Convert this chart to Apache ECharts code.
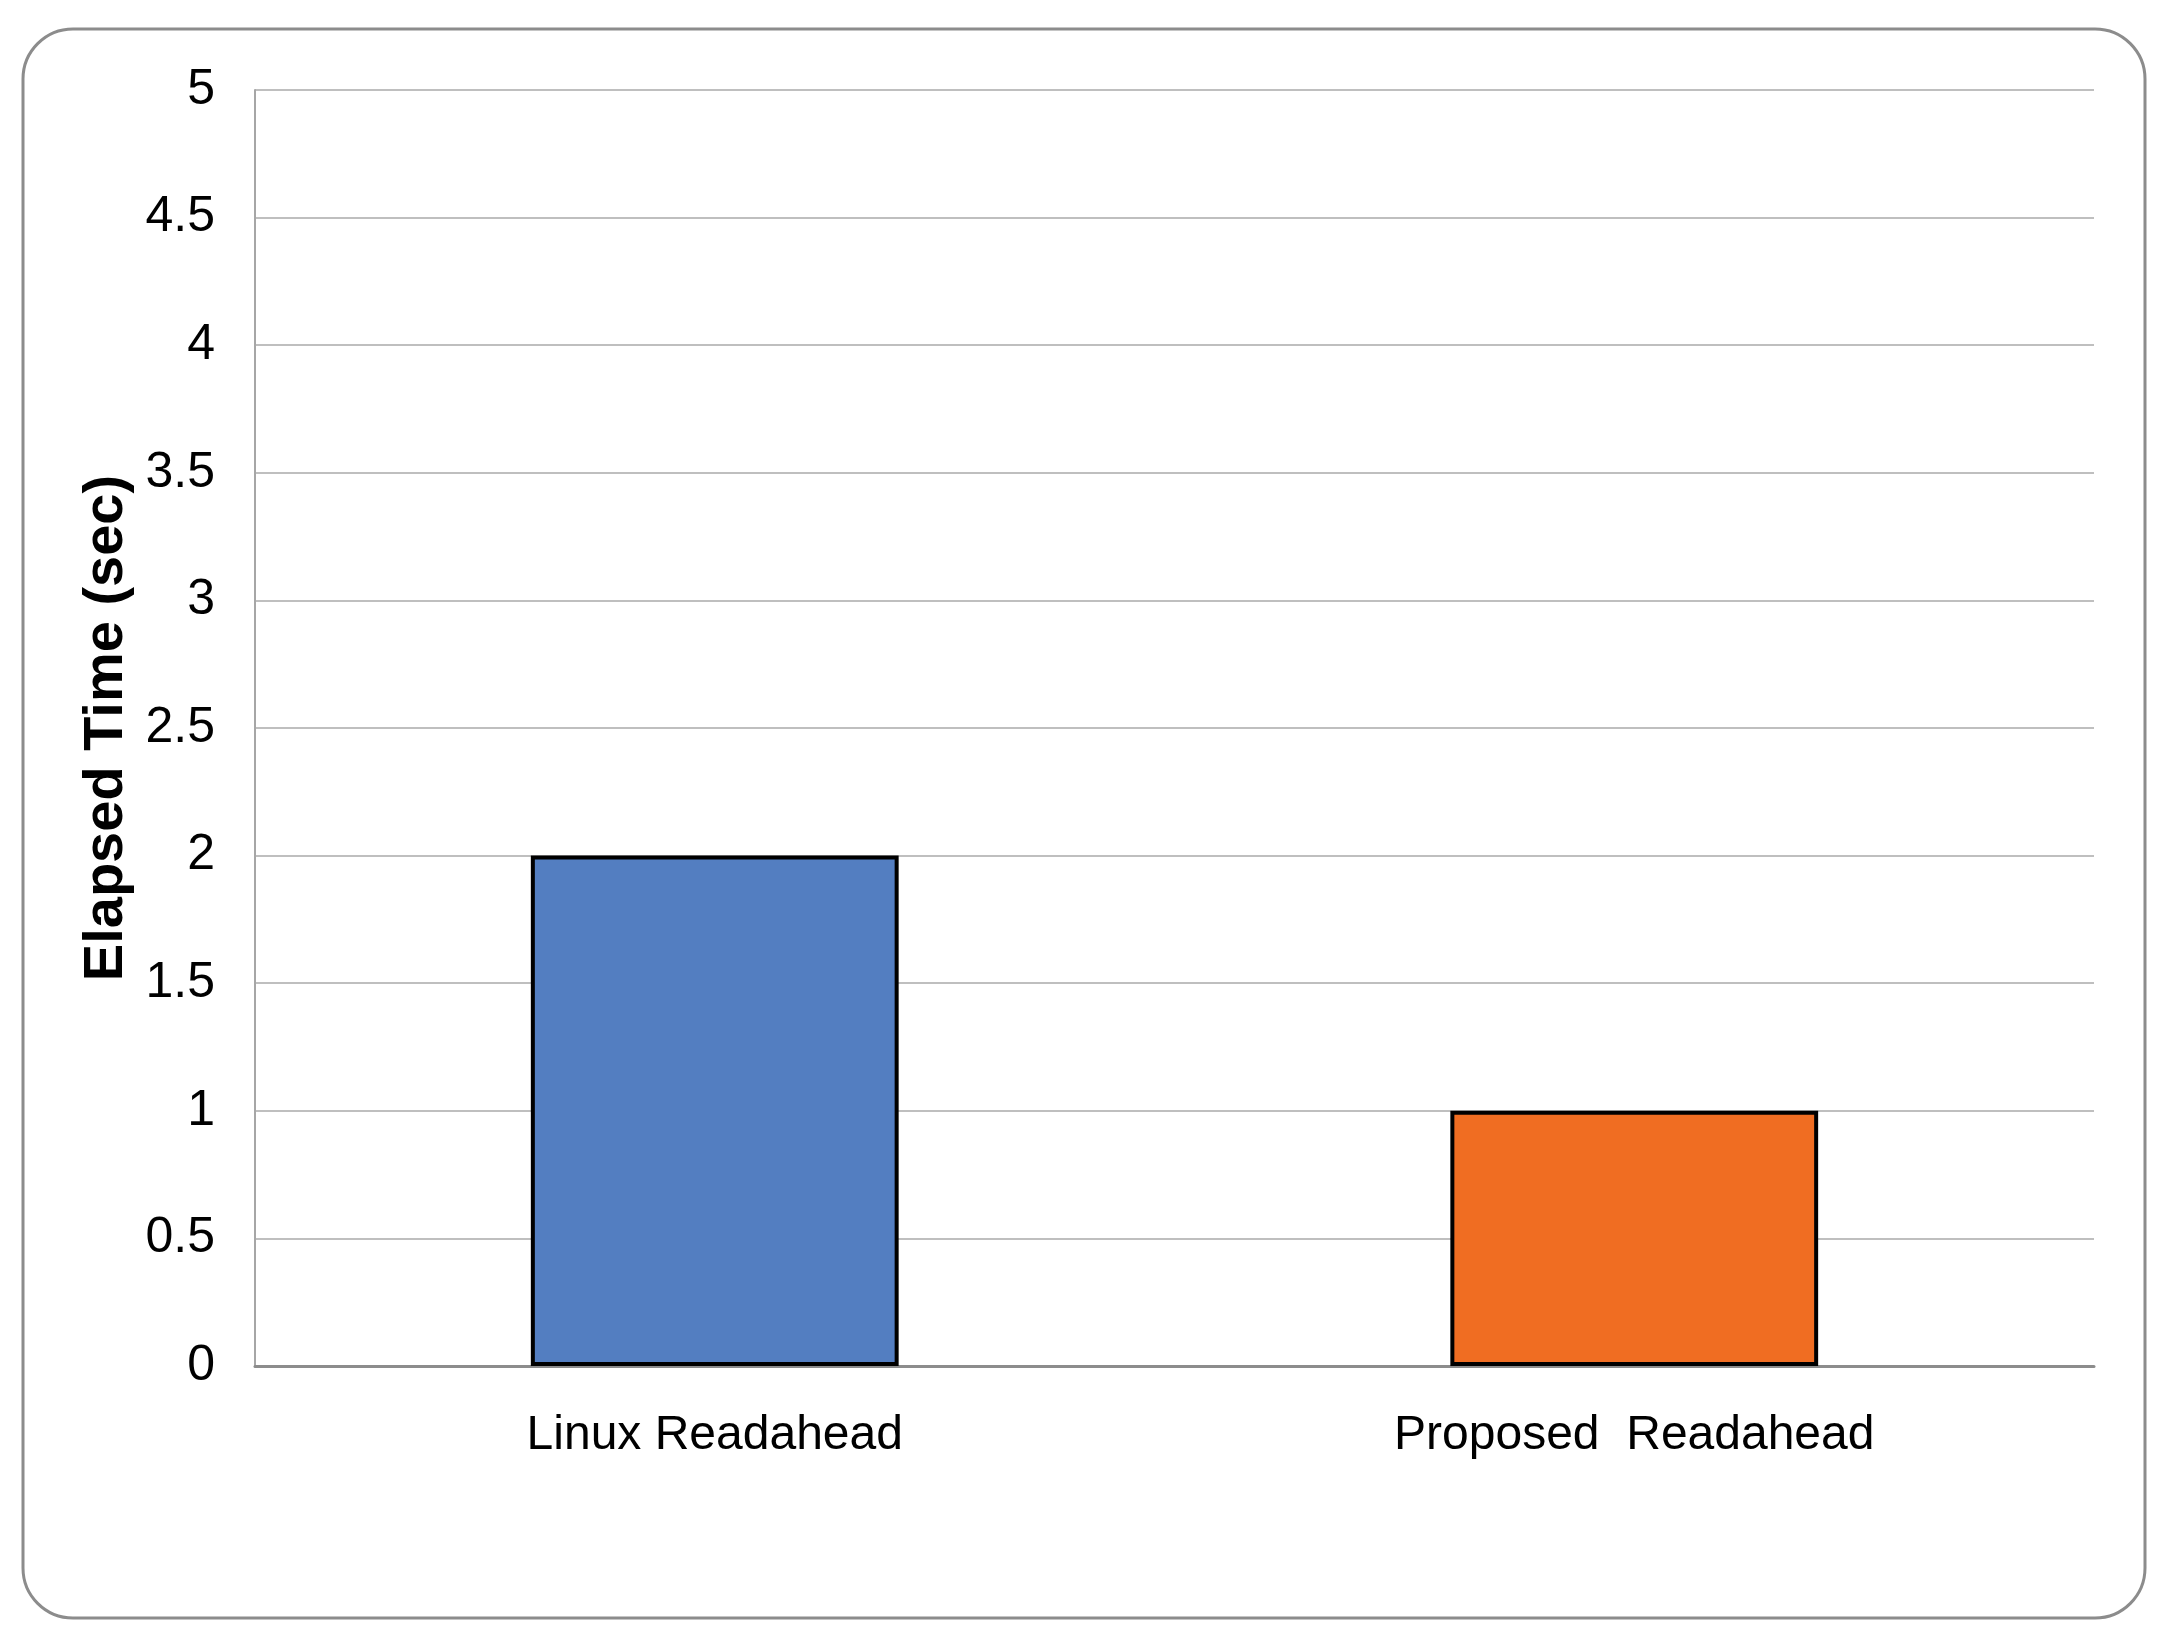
<!DOCTYPE html>
<html>
<head>
<meta charset="utf-8">
<script src="https://cdn.jsdelivr.net/npm/echarts@6/dist/echarts.min.js"></script>
<style>
html,body{margin:0;padding:0;background:#fff;}
#chart{width:2173px;height:1651px;}
</style>
</head>
<body>
<div id="chart"></div>
<script>
const categories = ['Linux Readahead', 'Proposed  Readahead'];
const elapsedTime = [2, 1];
const barColors = ['#537EC1', '#F06D22'];
const yTicks = {min: 0, max: 5, interval: 0.5};

const chart = echarts.init(document.getElementById('chart'), null, {renderer: 'canvas'});
const labelFont = '"Liberation Sans Narrow", "Arial Narrow", "Liberation Sans", Arial, sans-serif';
chart.setOption({
  backgroundColor: '#ffffff',
  animation: false,
  graphic: [{
    type: 'rect',
    shape: {x: 23, y: 29, width: 2122, height: 1589, r: 50},
    style: {fill: 'none', stroke: '#8C8C8C', lineWidth: 3},
    silent: true,
    z: -1
  }],
  grid: {left: 255, right: 79, top: 90, bottom: 285, containLabel: false},
  xAxis: {
    type: 'category',
    data: categories,
    axisLine: {show: true, lineStyle: {color: '#8C8C8C', width: 3}},
    axisTick: {show: false},
    axisLabel: {color: '#000', fontFamily: labelFont, fontSize: 48, margin: 46}
  },
  yAxis: {
    type: 'value',
    min: yTicks.min, max: yTicks.max, interval: yTicks.interval,
    name: 'Elapsed Time (sec)',
    nameLocation: 'middle',
    nameGap: 94,
    nameTextStyle: {color: '#000', fontFamily: '"Liberation Sans", Arial, sans-serif', fontWeight: 'bold', fontSize: 56},
    axisLine: {show: true, lineStyle: {color: '#A6A6A6', width: 2}},
    axisTick: {show: false},
    splitLine: {show: true, lineStyle: {color: '#BFBFBF', width: 2}},
    axisLabel: {color: '#000', fontFamily: labelFont, fontSize: 50, margin: 40}
  },
  series: [{
    type: 'bar',
    data: elapsedTime.map((v, i) => ({value: v, itemStyle: {color: barColors[i]}})),
    barWidth: '40%',
    itemStyle: {borderColor: '#000', borderWidth: 4}
  }]
});
</script>
</body>
</html>
